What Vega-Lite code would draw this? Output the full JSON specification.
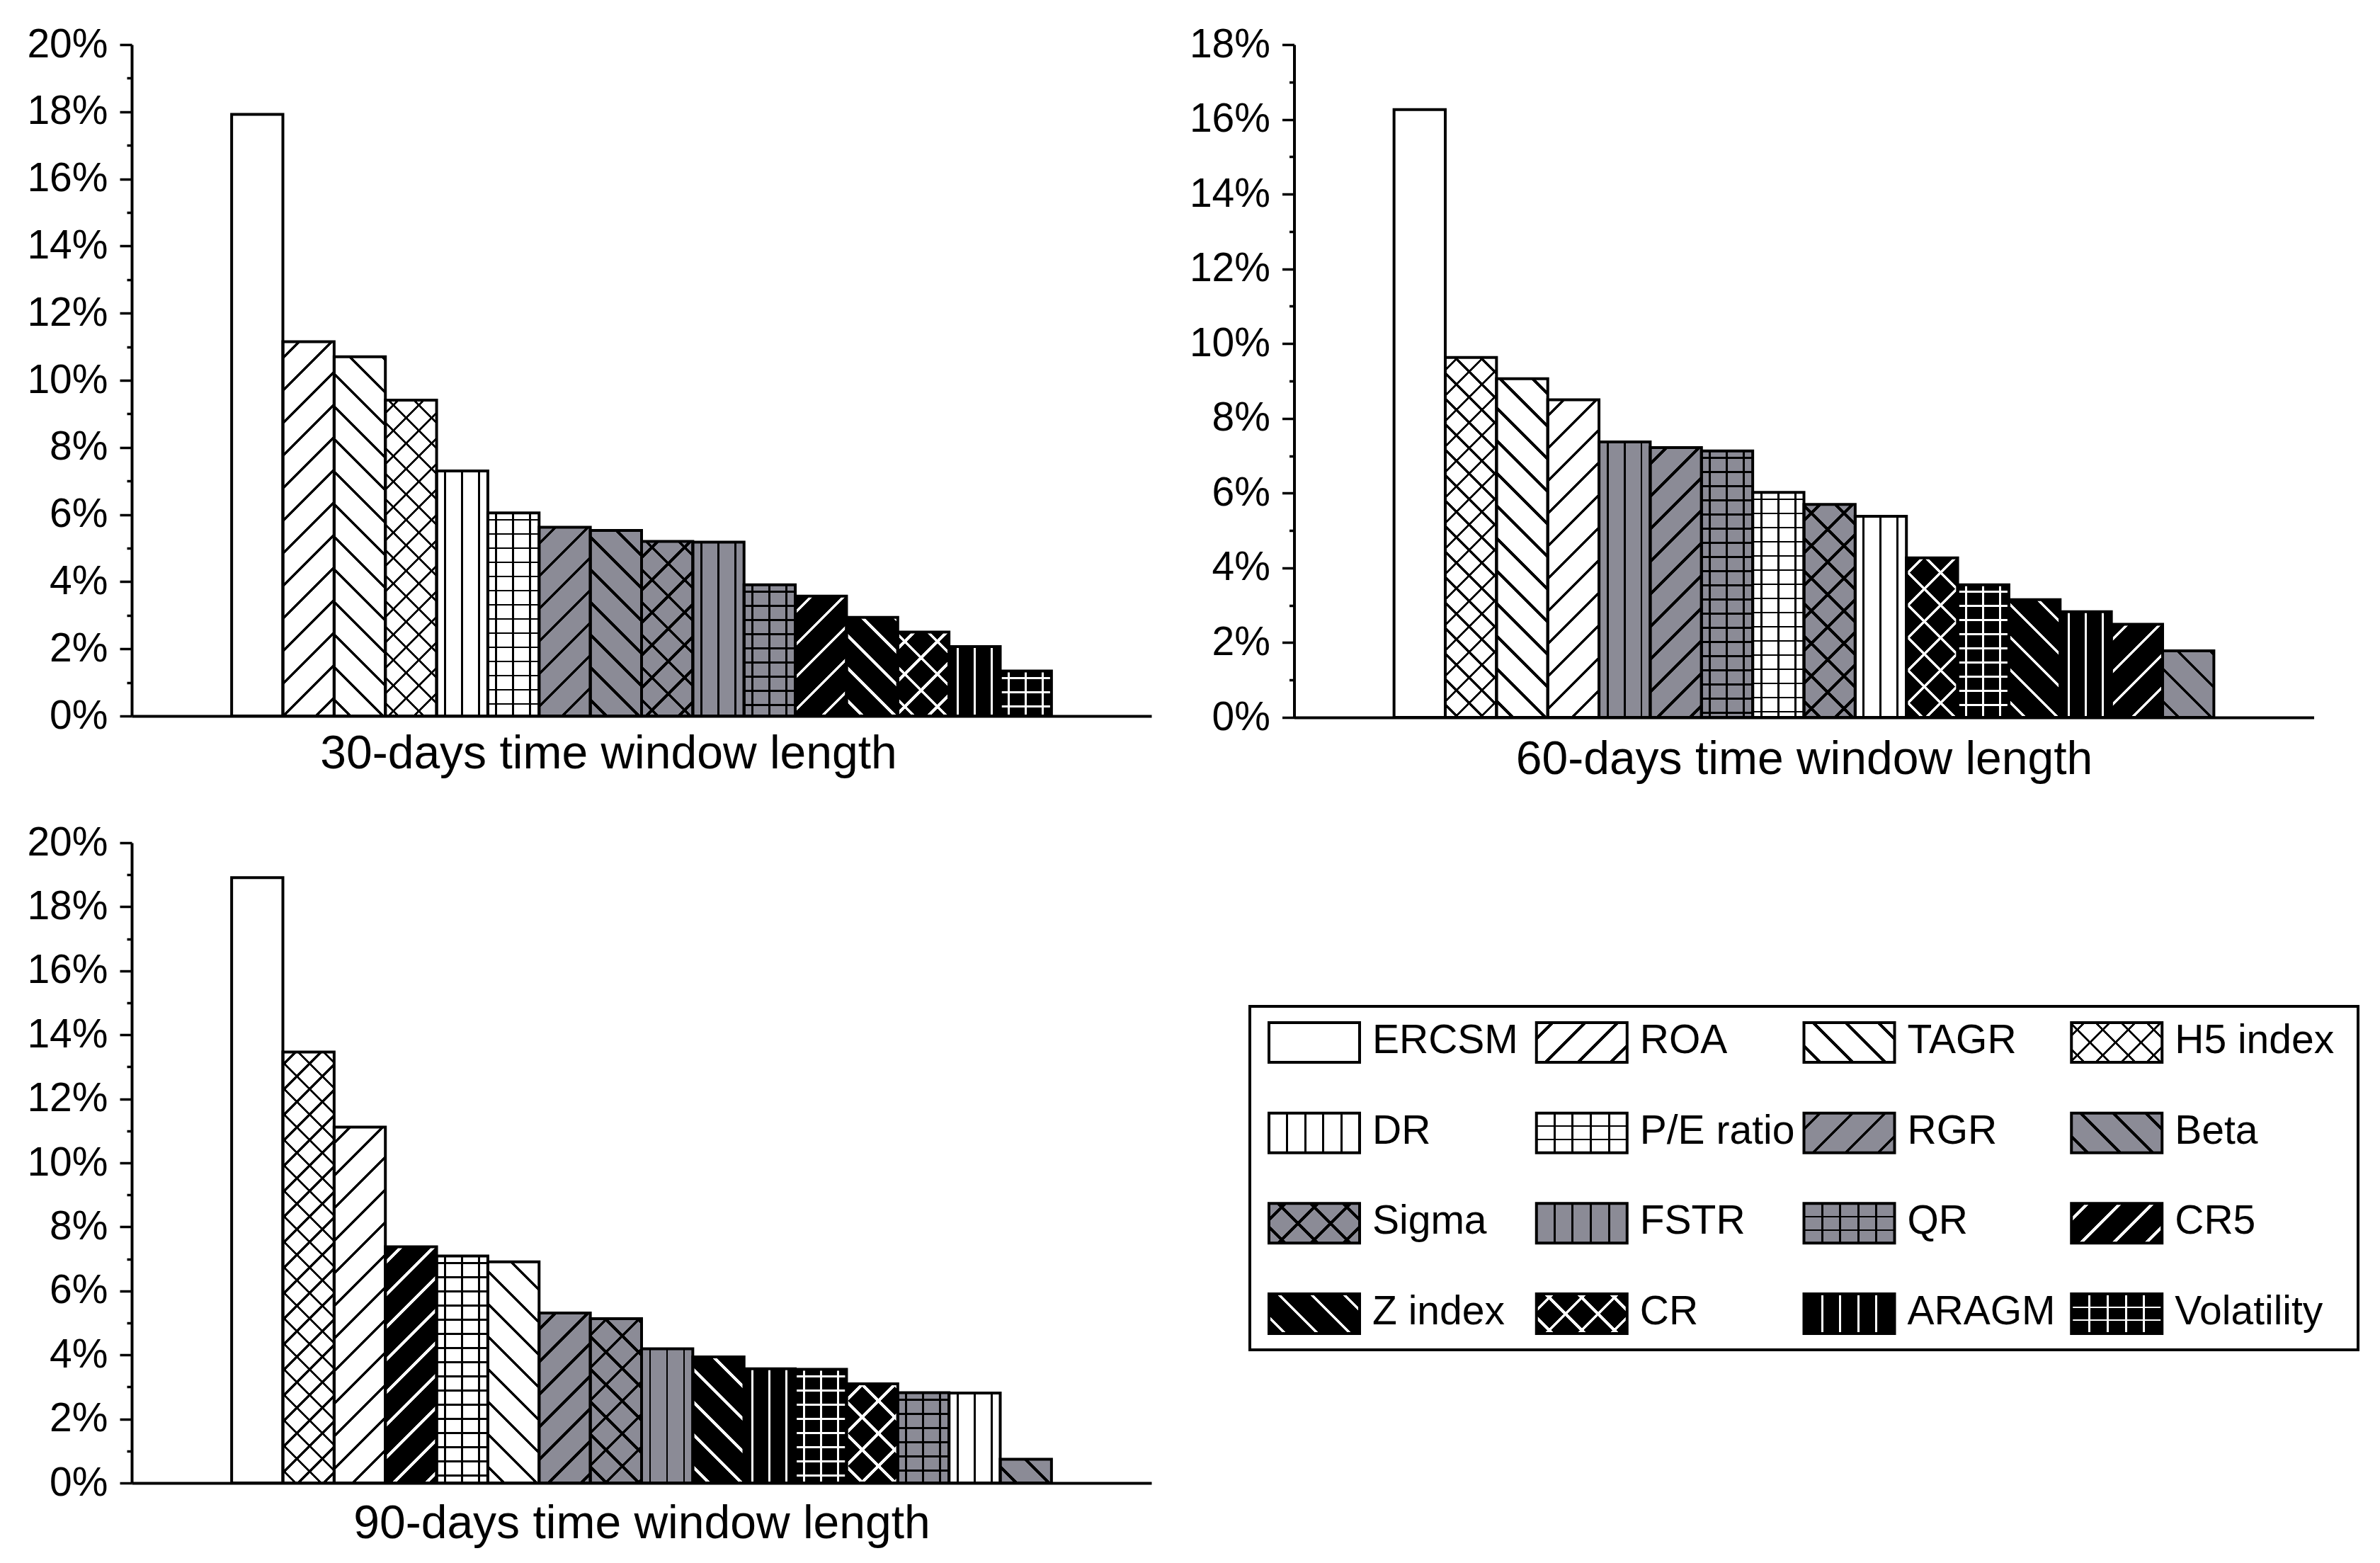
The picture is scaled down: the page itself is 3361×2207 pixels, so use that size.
{
  "$schema": "https://vega.github.io/schema/vega-lite/v6.json",
  "background": "white",
  "padding": {"left": 37, "top": 34, "right": 5, "bottom": 5},
  "config": {
    "view": {"stroke": null},
    "font": "Liberation Sans",
    "axis": {"grid": false, "domainColor": "black", "tickColor": "black", "labelColor": "black", "titleColor": "black", "labelFont": "Liberation Sans", "titleFont": "Liberation Sans"}
  },
  "params": [
    {"name": "stB", "value": [
      {"offset":0.022,"color":"rgba(0,0,0,0)"},{"offset":0.022,"color":"#000"},{"offset":0.028,"color":"#000"},{"offset":0.028,"color":"rgba(0,0,0,0)"},
      {"offset":0.072,"color":"rgba(0,0,0,0)"},{"offset":0.072,"color":"#000"},{"offset":0.078,"color":"#000"},{"offset":0.078,"color":"rgba(0,0,0,0)"},
      {"offset":0.122,"color":"rgba(0,0,0,0)"},{"offset":0.122,"color":"#000"},{"offset":0.128,"color":"#000"},{"offset":0.128,"color":"rgba(0,0,0,0)"},
      {"offset":0.172,"color":"rgba(0,0,0,0)"},{"offset":0.172,"color":"#000"},{"offset":0.178,"color":"#000"},{"offset":0.178,"color":"rgba(0,0,0,0)"},
      {"offset":0.222,"color":"rgba(0,0,0,0)"},{"offset":0.222,"color":"#000"},{"offset":0.228,"color":"#000"},{"offset":0.228,"color":"rgba(0,0,0,0)"},
      {"offset":0.272,"color":"rgba(0,0,0,0)"},{"offset":0.272,"color":"#000"},{"offset":0.278,"color":"#000"},{"offset":0.278,"color":"rgba(0,0,0,0)"},
      {"offset":0.322,"color":"rgba(0,0,0,0)"},{"offset":0.322,"color":"#000"},{"offset":0.328,"color":"#000"},{"offset":0.328,"color":"rgba(0,0,0,0)"},
      {"offset":0.372,"color":"rgba(0,0,0,0)"},{"offset":0.372,"color":"#000"},{"offset":0.378,"color":"#000"},{"offset":0.378,"color":"rgba(0,0,0,0)"},
      {"offset":0.422,"color":"rgba(0,0,0,0)"},{"offset":0.422,"color":"#000"},{"offset":0.428,"color":"#000"},{"offset":0.428,"color":"rgba(0,0,0,0)"},
      {"offset":0.472,"color":"rgba(0,0,0,0)"},{"offset":0.472,"color":"#000"},{"offset":0.478,"color":"#000"},{"offset":0.478,"color":"rgba(0,0,0,0)"},
      {"offset":0.522,"color":"rgba(0,0,0,0)"},{"offset":0.522,"color":"#000"},{"offset":0.528,"color":"#000"},{"offset":0.528,"color":"rgba(0,0,0,0)"},
      {"offset":0.572,"color":"rgba(0,0,0,0)"},{"offset":0.572,"color":"#000"},{"offset":0.578,"color":"#000"},{"offset":0.578,"color":"rgba(0,0,0,0)"},
      {"offset":0.622,"color":"rgba(0,0,0,0)"},{"offset":0.622,"color":"#000"},{"offset":0.628,"color":"#000"},{"offset":0.628,"color":"rgba(0,0,0,0)"},
      {"offset":0.672,"color":"rgba(0,0,0,0)"},{"offset":0.672,"color":"#000"},{"offset":0.678,"color":"#000"},{"offset":0.678,"color":"rgba(0,0,0,0)"},
      {"offset":0.722,"color":"rgba(0,0,0,0)"},{"offset":0.722,"color":"#000"},{"offset":0.728,"color":"#000"},{"offset":0.728,"color":"rgba(0,0,0,0)"},
      {"offset":0.772,"color":"rgba(0,0,0,0)"},{"offset":0.772,"color":"#000"},{"offset":0.778,"color":"#000"},{"offset":0.778,"color":"rgba(0,0,0,0)"},
      {"offset":0.822,"color":"rgba(0,0,0,0)"},{"offset":0.822,"color":"#000"},{"offset":0.828,"color":"#000"},{"offset":0.828,"color":"rgba(0,0,0,0)"},
      {"offset":0.872,"color":"rgba(0,0,0,0)"},{"offset":0.872,"color":"#000"},{"offset":0.878,"color":"#000"},{"offset":0.878,"color":"rgba(0,0,0,0)"},
      {"offset":0.922,"color":"rgba(0,0,0,0)"},{"offset":0.922,"color":"#000"},{"offset":0.928,"color":"#000"},{"offset":0.928,"color":"rgba(0,0,0,0)"},
      {"offset":0.972,"color":"rgba(0,0,0,0)"},{"offset":0.972,"color":"#000"},{"offset":0.978,"color":"#000"},{"offset":0.978,"color":"rgba(0,0,0,0)"}
    ]},
    {"name": "stW", "value": [
      {"offset":0.022,"color":"rgba(255,255,255,0)"},{"offset":0.022,"color":"#fff"},{"offset":0.028,"color":"#fff"},{"offset":0.028,"color":"rgba(255,255,255,0)"},
      {"offset":0.072,"color":"rgba(255,255,255,0)"},{"offset":0.072,"color":"#fff"},{"offset":0.078,"color":"#fff"},{"offset":0.078,"color":"rgba(255,255,255,0)"},
      {"offset":0.122,"color":"rgba(255,255,255,0)"},{"offset":0.122,"color":"#fff"},{"offset":0.128,"color":"#fff"},{"offset":0.128,"color":"rgba(255,255,255,0)"},
      {"offset":0.172,"color":"rgba(255,255,255,0)"},{"offset":0.172,"color":"#fff"},{"offset":0.178,"color":"#fff"},{"offset":0.178,"color":"rgba(255,255,255,0)"},
      {"offset":0.222,"color":"rgba(255,255,255,0)"},{"offset":0.222,"color":"#fff"},{"offset":0.228,"color":"#fff"},{"offset":0.228,"color":"rgba(255,255,255,0)"},
      {"offset":0.272,"color":"rgba(255,255,255,0)"},{"offset":0.272,"color":"#fff"},{"offset":0.278,"color":"#fff"},{"offset":0.278,"color":"rgba(255,255,255,0)"},
      {"offset":0.322,"color":"rgba(255,255,255,0)"},{"offset":0.322,"color":"#fff"},{"offset":0.328,"color":"#fff"},{"offset":0.328,"color":"rgba(255,255,255,0)"},
      {"offset":0.372,"color":"rgba(255,255,255,0)"},{"offset":0.372,"color":"#fff"},{"offset":0.378,"color":"#fff"},{"offset":0.378,"color":"rgba(255,255,255,0)"},
      {"offset":0.422,"color":"rgba(255,255,255,0)"},{"offset":0.422,"color":"#fff"},{"offset":0.428,"color":"#fff"},{"offset":0.428,"color":"rgba(255,255,255,0)"},
      {"offset":0.472,"color":"rgba(255,255,255,0)"},{"offset":0.472,"color":"#fff"},{"offset":0.478,"color":"#fff"},{"offset":0.478,"color":"rgba(255,255,255,0)"},
      {"offset":0.522,"color":"rgba(255,255,255,0)"},{"offset":0.522,"color":"#fff"},{"offset":0.528,"color":"#fff"},{"offset":0.528,"color":"rgba(255,255,255,0)"},
      {"offset":0.572,"color":"rgba(255,255,255,0)"},{"offset":0.572,"color":"#fff"},{"offset":0.578,"color":"#fff"},{"offset":0.578,"color":"rgba(255,255,255,0)"},
      {"offset":0.622,"color":"rgba(255,255,255,0)"},{"offset":0.622,"color":"#fff"},{"offset":0.628,"color":"#fff"},{"offset":0.628,"color":"rgba(255,255,255,0)"},
      {"offset":0.672,"color":"rgba(255,255,255,0)"},{"offset":0.672,"color":"#fff"},{"offset":0.678,"color":"#fff"},{"offset":0.678,"color":"rgba(255,255,255,0)"},
      {"offset":0.722,"color":"rgba(255,255,255,0)"},{"offset":0.722,"color":"#fff"},{"offset":0.728,"color":"#fff"},{"offset":0.728,"color":"rgba(255,255,255,0)"},
      {"offset":0.772,"color":"rgba(255,255,255,0)"},{"offset":0.772,"color":"#fff"},{"offset":0.778,"color":"#fff"},{"offset":0.778,"color":"rgba(255,255,255,0)"},
      {"offset":0.822,"color":"rgba(255,255,255,0)"},{"offset":0.822,"color":"#fff"},{"offset":0.828,"color":"#fff"},{"offset":0.828,"color":"rgba(255,255,255,0)"},
      {"offset":0.872,"color":"rgba(255,255,255,0)"},{"offset":0.872,"color":"#fff"},{"offset":0.878,"color":"#fff"},{"offset":0.878,"color":"rgba(255,255,255,0)"},
      {"offset":0.922,"color":"rgba(255,255,255,0)"},{"offset":0.922,"color":"#fff"},{"offset":0.928,"color":"#fff"},{"offset":0.928,"color":"rgba(255,255,255,0)"},
      {"offset":0.972,"color":"rgba(255,255,255,0)"},{"offset":0.972,"color":"#fff"},{"offset":0.978,"color":"#fff"},{"offset":0.978,"color":"rgba(255,255,255,0)"}
    ]}
  ],
  "datasets": {
    "d30": [
      {"k": "ERCSM", "v": 17.92}, {"k": "ROA", "v": 11.15}, {"k": "TAGR", "v": 10.7}, {"k": "H5 index", "v": 9.41},
      {"k": "DR", "v": 7.3}, {"k": "P/E ratio", "v": 6.05}, {"k": "RGR", "v": 5.62}, {"k": "Beta", "v": 5.53},
      {"k": "Sigma", "v": 5.2}, {"k": "FSTR", "v": 5.18}, {"k": "QR", "v": 3.91}, {"k": "CR5", "v": 3.57},
      {"k": "Z index", "v": 2.94}, {"k": "CR", "v": 2.5}, {"k": "ARAGM", "v": 2.07}, {"k": "Volatility", "v": 1.34}
    ],
    "d60": [
      {"k": "ERCSM", "v": 16.26}, {"k": "H5 index", "v": 9.63}, {"k": "TAGR", "v": 9.06}, {"k": "ROA", "v": 8.5},
      {"k": "FSTR", "v": 7.37}, {"k": "RGR", "v": 7.22}, {"k": "QR", "v": 7.13}, {"k": "P/E ratio", "v": 6.02},
      {"k": "Sigma", "v": 5.7}, {"k": "DR", "v": 5.38}, {"k": "CR", "v": 4.27}, {"k": "Volatility", "v": 3.55},
      {"k": "Z index", "v": 3.15}, {"k": "ARAGM", "v": 2.83}, {"k": "CR5", "v": 2.49}, {"k": "Beta", "v": 1.78}
    ],
    "d90": [
      {"k": "ERCSM", "v": 18.91}, {"k": "H5 index", "v": 13.46}, {"k": "ROA", "v": 11.12}, {"k": "CR5", "v": 7.38},
      {"k": "P/E ratio", "v": 7.09}, {"k": "TAGR", "v": 6.91}, {"k": "RGR", "v": 5.31}, {"k": "Sigma", "v": 5.13},
      {"k": "FSTR", "v": 4.19}, {"k": "Z index", "v": 3.94}, {"k": "ARAGM", "v": 3.57}, {"k": "Volatility", "v": 3.55},
      {"k": "CR", "v": 3.1}, {"k": "QR", "v": 2.82}, {"k": "DR", "v": 2.81}, {"k": "Beta", "v": 0.74}
    ],
    "keys": [
      {"k": "ERCSM"}, {"k": "ROA"}, {"k": "TAGR"}, {"k": "H5 index"},
      {"k": "DR"}, {"k": "P/E ratio"}, {"k": "RGR"}, {"k": "Beta"},
      {"k": "Sigma"}, {"k": "FSTR"}, {"k": "QR"}, {"k": "CR5"},
      {"k": "Z index"}, {"k": "CR"}, {"k": "ARAGM"}, {"k": "Volatility"}
    ]
  },
  "spacing": 53,
  "resolve": {"scale": {"xOffset": "independent"}},
  "hconcat": [
    {
      "bounds": "flush",
      "spacing": 179,
      "resolve": {"scale": {"xOffset": "independent"}},
      "vconcat": [
        {
          "data": {"name": "d30"},
          "width": 1440,
          "height": 948,
          "encoding": {
            "x": {"datum": "all", "type": "nominal", "scale": {"type": "band", "paddingInner": 0, "paddingOuter": 0.0528},
                  "axis": {"labels": false, "ticks": false, "domainWidth": 4, "title": "30-days time window length", "titleFontSize": 66, "titleFontWeight": "normal", "titlePadding": 21, "titleX": 673}},
            "xOffset": {"field": "k", "type": "nominal", "sort": {"field": "v", "op": "max", "order": "descending"}, "scale": {"type": "band", "paddingInner": 0, "paddingOuter": 1}},
            "y": {"field": "v", "type": "quantitative", "stack": null, "scale": {"domain": [0, 20], "nice": false},
                  "axis": {"values": [0,1,2,3,4,5,6,7,8,9,10,11,12,13,14,15,16,17,18,19,20], "labelExpr": "datum.value % 2 == 0 ? datum.value + '%' : ''",
                           "title": null, "domainWidth": 4, "tickWidth": 3.5, "tickSize": {"condition": {"test": "datum.value % 2 == 1", "value": 7}, "value": 17},
                           "labelFontSize": 57, "labelPadding": 17, "labelOverlap": false, "labelFlush": false}}
          },
          "layer": [
            {"mark": {"type": "bar"},
             "encoding": {"fill": {"field": "k", "type": "nominal", "legend": null,
               "scale": {"domain": ["ERCSM","ROA","TAGR","H5 index","DR","P/E ratio","RGR","Beta","Sigma","FSTR","QR","CR5","Z index","CR","ARAGM","Volatility"],
                         "range": ["#ffffff","#ffffff","#ffffff","#ffffff","#ffffff","#ffffff","#8b8b96","#8b8b96","#8b8b96","#8b8b96","#8b8b96","#000000","#000000","#000000","#000000","#000000"]}}}},
            {"mark": {"type": "bar", "fill": {"expr": "indexof(['ROA','H5 index','RGR','Sigma','CR5','CR'],datum.k)<0?'transparent':{gradient:'linear',x1:0,y1:0,x2:(datum.k=='H5 index'?720:920)/(72.36+pow(datum.v*47.4,2)/72.36),y2:(datum.k=='H5 index'?720:920)/(72.36+pow(datum.v*47.4,2)/72.36)*datum.v*47.4/72.36,stops:(indexof(['CR5','Z index','CR','ARAGM','Volatility'],datum.k)<0?stB:stW)}"}}},
            {"mark": {"type": "bar", "fill": {"expr": "indexof(['TAGR','H5 index','Beta','Sigma','Z index','CR'],datum.k)<0?'transparent':{gradient:'linear',x1:0,y1:1,x2:(datum.k=='H5 index'?720:920)/(72.36+pow(datum.v*47.4,2)/72.36),y2:1-(datum.k=='H5 index'?720:920)/(72.36+pow(datum.v*47.4,2)/72.36)*datum.v*47.4/72.36,stops:(indexof(['CR5','Z index','CR','ARAGM','Volatility'],datum.k)<0?stB:stW)}"}}},
            {"mark": {"type": "bar", "fill": {"expr": "indexof(['DR','P/E ratio','FSTR','QR','ARAGM','Volatility'],datum.k)<0?'transparent':{gradient:'linear',x1:0,y1:0,x2:6.633,y2:0,stops:(indexof(['CR5','Z index','CR','ARAGM','Volatility'],datum.k)<0?stB:stW)}"}}},
            {"mark": {"type": "bar", "fill": {"expr": "indexof(['P/E ratio','QR','Volatility'],datum.k)<0?'transparent':{gradient:'linear',x1:0,y1:0,x2:0.0001,y2:400/(datum.v*47.4),stops:(datum.k=='Volatility'?stW:stB)}"}}},
            {"mark": {"type": "bar", "fill": "transparent", "stroke": "black", "strokeWidth": 4}}
          ]
        },
        {
          "data": {"name": "d90"},
          "width": 1440,
          "height": 904,
          "encoding": {
            "x": {"datum": "all", "type": "nominal", "scale": {"type": "band", "paddingInner": 0, "paddingOuter": 0.0528},
                  "axis": {"labels": false, "ticks": false, "domainWidth": 4, "title": "90-days time window length", "titleFontSize": 66, "titleFontWeight": "normal", "titlePadding": 25}},
            "xOffset": {"field": "k", "type": "nominal", "sort": {"field": "v", "op": "max", "order": "descending"}, "scale": {"type": "band", "paddingInner": 0, "paddingOuter": 1}},
            "y": {"field": "v", "type": "quantitative", "stack": null, "scale": {"domain": [0, 20], "nice": false},
                  "axis": {"values": [0,1,2,3,4,5,6,7,8,9,10,11,12,13,14,15,16,17,18,19,20], "labelExpr": "datum.value % 2 == 0 ? datum.value + '%' : ''",
                           "title": null, "domainWidth": 4, "tickWidth": 3.5, "tickSize": {"condition": {"test": "datum.value % 2 == 1", "value": 7}, "value": 17},
                           "labelFontSize": 57, "labelPadding": 17, "labelOverlap": false, "labelFlush": false}}
          },
          "layer": [
            {"mark": {"type": "bar"},
             "encoding": {"fill": {"field": "k", "type": "nominal", "legend": null,
               "scale": {"domain": ["ERCSM","ROA","TAGR","H5 index","DR","P/E ratio","RGR","Beta","Sigma","FSTR","QR","CR5","Z index","CR","ARAGM","Volatility"],
                         "range": ["#ffffff","#ffffff","#ffffff","#ffffff","#ffffff","#ffffff","#8b8b96","#8b8b96","#8b8b96","#8b8b96","#8b8b96","#000000","#000000","#000000","#000000","#000000"]}}}},
            {"mark": {"type": "bar", "fill": {"expr": "indexof(['ROA','H5 index','RGR','Sigma','CR5','CR'],datum.k)<0?'transparent':{gradient:'linear',x1:0,y1:0,x2:(datum.k=='H5 index'?720:920)/(72.36+pow(datum.v*45.2,2)/72.36),y2:(datum.k=='H5 index'?720:920)/(72.36+pow(datum.v*45.2,2)/72.36)*datum.v*45.2/72.36,stops:(indexof(['CR5','Z index','CR','ARAGM','Volatility'],datum.k)<0?stB:stW)}"}}},
            {"mark": {"type": "bar", "fill": {"expr": "indexof(['TAGR','H5 index','Beta','Sigma','Z index','CR'],datum.k)<0?'transparent':{gradient:'linear',x1:0,y1:1,x2:(datum.k=='H5 index'?720:920)/(72.36+pow(datum.v*45.2,2)/72.36),y2:1-(datum.k=='H5 index'?720:920)/(72.36+pow(datum.v*45.2,2)/72.36)*datum.v*45.2/72.36,stops:(indexof(['CR5','Z index','CR','ARAGM','Volatility'],datum.k)<0?stB:stW)}"}}},
            {"mark": {"type": "bar", "fill": {"expr": "indexof(['DR','P/E ratio','FSTR','QR','ARAGM','Volatility'],datum.k)<0?'transparent':{gradient:'linear',x1:0,y1:0,x2:6.633,y2:0,stops:(indexof(['CR5','Z index','CR','ARAGM','Volatility'],datum.k)<0?stB:stW)}"}}},
            {"mark": {"type": "bar", "fill": {"expr": "indexof(['P/E ratio','QR','Volatility'],datum.k)<0?'transparent':{gradient:'linear',x1:0,y1:0,x2:0.0001,y2:400/(datum.v*45.2),stops:(datum.k=='Volatility'?stW:stB)}"}}},
            {"mark": {"type": "bar", "fill": "transparent", "stroke": "black", "strokeWidth": 4}}
          ]
        }
      ]
    },
    {
      "bounds": "flush",
      "spacing": 408,
      "center": true,
      "resolve": {"scale": {"xOffset": "independent"}},
      "vconcat": [
        {
          "data": {"name": "d60"},
          "width": 1440,
          "height": 950,
          "encoding": {
            "x": {"datum": "all", "type": "nominal", "scale": {"type": "band", "paddingInner": 0, "paddingOuter": 0.0528},
                  "axis": {"labels": false, "ticks": false, "domainWidth": 4, "title": "60-days time window length", "titleFontSize": 66, "titleFontWeight": "normal", "titlePadding": 27}},
            "xOffset": {"field": "k", "type": "nominal", "sort": {"field": "v", "op": "max", "order": "descending"}, "scale": {"type": "band", "paddingInner": 0, "paddingOuter": 1}},
            "y": {"field": "v", "type": "quantitative", "stack": null, "scale": {"domain": [0, 18], "nice": false},
                  "axis": {"values": [0,1,2,3,4,5,6,7,8,9,10,11,12,13,14,15,16,17,18], "labelExpr": "datum.value % 2 == 0 ? datum.value + '%' : ''",
                           "title": null, "domainWidth": 4, "tickWidth": 3.5, "tickSize": {"condition": {"test": "datum.value % 2 == 1", "value": 7}, "value": 17},
                           "labelFontSize": 57, "labelPadding": 17, "labelOverlap": false, "labelFlush": false}}
          },
          "layer": [
            {"mark": {"type": "bar"},
             "encoding": {"fill": {"field": "k", "type": "nominal", "legend": null,
               "scale": {"domain": ["ERCSM","ROA","TAGR","H5 index","DR","P/E ratio","RGR","Beta","Sigma","FSTR","QR","CR5","Z index","CR","ARAGM","Volatility"],
                         "range": ["#ffffff","#ffffff","#ffffff","#ffffff","#ffffff","#ffffff","#8b8b96","#8b8b96","#8b8b96","#8b8b96","#8b8b96","#000000","#000000","#000000","#000000","#000000"]}}}},
            {"mark": {"type": "bar", "fill": {"expr": "indexof(['ROA','H5 index','RGR','Sigma','CR5','CR'],datum.k)<0?'transparent':{gradient:'linear',x1:0,y1:0,x2:(datum.k=='H5 index'?720:920)/(72.36+pow(datum.v*52.78,2)/72.36),y2:(datum.k=='H5 index'?720:920)/(72.36+pow(datum.v*52.78,2)/72.36)*datum.v*52.78/72.36,stops:(indexof(['CR5','Z index','CR','ARAGM','Volatility'],datum.k)<0?stB:stW)}"}}},
            {"mark": {"type": "bar", "fill": {"expr": "indexof(['TAGR','H5 index','Beta','Sigma','Z index','CR'],datum.k)<0?'transparent':{gradient:'linear',x1:0,y1:1,x2:(datum.k=='H5 index'?720:920)/(72.36+pow(datum.v*52.78,2)/72.36),y2:1-(datum.k=='H5 index'?720:920)/(72.36+pow(datum.v*52.78,2)/72.36)*datum.v*52.78/72.36,stops:(indexof(['CR5','Z index','CR','ARAGM','Volatility'],datum.k)<0?stB:stW)}"}}},
            {"mark": {"type": "bar", "fill": {"expr": "indexof(['DR','P/E ratio','FSTR','QR','ARAGM','Volatility'],datum.k)<0?'transparent':{gradient:'linear',x1:0,y1:0,x2:6.633,y2:0,stops:(indexof(['CR5','Z index','CR','ARAGM','Volatility'],datum.k)<0?stB:stW)}"}}},
            {"mark": {"type": "bar", "fill": {"expr": "indexof(['P/E ratio','QR','Volatility'],datum.k)<0?'transparent':{gradient:'linear',x1:0,y1:0,x2:0.0001,y2:400/(datum.v*52.78),stops:(datum.k=='Volatility'?stW:stB)}"}}},
            {"mark": {"type": "bar", "fill": "transparent", "stroke": "black", "strokeWidth": 4}}
          ]
        },
        {
          "data": {"name": "keys"},
          "width": 1565,
          "height": 485,
          "view": {"stroke": "black", "strokeWidth": 4},
          "transform": [
            {"window": [{"op": "row_number", "as": "i"}]},
            {"calculate": "(datum.i - 1) % 4", "as": "col"},
            {"calculate": "floor((datum.i - 1) / 4)", "as": "row"}
          ],
          "encoding": {
            "x": {"field": "col", "type": "ordinal", "bandPosition": 0, "scale": {"type": "band", "paddingInner": 0, "paddingOuter": 0.0715}, "axis": null},
            "y": {"field": "row", "type": "ordinal", "scale": {"type": "point", "padding": 0.399}, "axis": null}
          },
          "layer": [
            {"mark": {"type": "point", "shape": "M0,-0.4375H2V0.4375H0Z", "size": 16384, "filled": true, "opacity": 1, "strokeWidth": 0},
             "encoding": {"fill": {"field": "k", "type": "nominal", "legend": null,
               "scale": {"domain": ["ERCSM","ROA","TAGR","H5 index","DR","P/E ratio","RGR","Beta","Sigma","FSTR","QR","CR5","Z index","CR","ARAGM","Volatility"],
                         "range": ["#ffffff","#ffffff","#ffffff","#ffffff","#ffffff","#ffffff","#8b8b96","#8b8b96","#8b8b96","#8b8b96","#8b8b96","#000000","#000000","#000000","#000000","#000000"]}}}},
            {"mark": {"type": "point", "shape": "M0,-0.4375H2V0.4375H0Z", "size": 16384, "filled": true, "opacity": 1, "strokeWidth": 0,
              "fill": {"expr": "indexof(['ROA','H5 index','RGR','Sigma','CR5','CR'],datum.k)<0?'transparent':{gradient:'linear',x1:0,y1:0,x2:(datum.k=='H5 index'?4.721:6.033),y2:(datum.k=='H5 index'?2.066:2.639),stops:(indexof(['CR5','Z index','CR','ARAGM','Volatility'],datum.k)<0?stB:stW)}"}}},
            {"mark": {"type": "point", "shape": "M0,-0.4375H2V0.4375H0Z", "size": 16384, "filled": true, "opacity": 1, "strokeWidth": 0,
              "fill": {"expr": "indexof(['TAGR','H5 index','Beta','Sigma','Z index','CR'],datum.k)<0?'transparent':{gradient:'linear',x1:0,y1:1,x2:(datum.k=='H5 index'?4.721:6.033),y2:(datum.k=='H5 index'?-1.066:-1.639),stops:(indexof(['CR5','Z index','CR','ARAGM','Volatility'],datum.k)<0?stB:stW)}"}}},
            {"mark": {"type": "point", "shape": "M0,-0.4375H2V0.4375H0Z", "size": 16384, "filled": true, "opacity": 1, "strokeWidth": 0,
              "fill": {"expr": "indexof(['DR','P/E ratio','FSTR','QR','ARAGM','Volatility'],datum.k)<0?'transparent':{gradient:'linear',x1:-0.1,y1:0,x2:3.9,y2:0,stops:(indexof(['CR5','Z index','CR','ARAGM','Volatility'],datum.k)<0?stB:stW)}"}}},
            {"mark": {"type": "point", "shape": "M0,-0.4375H2V0.4375H0Z", "size": 16384, "filled": true, "opacity": 1, "strokeWidth": 0,
              "fill": {"expr": "indexof(['P/E ratio','QR','Volatility'],datum.k)<0?'transparent':{gradient:'linear',x1:0,y1:-0.1667,x2:0.0001,y2:6.5,stops:(datum.k=='Volatility'?stW:stB)}"}}},
            {"mark": {"type": "point", "shape": "M0,-0.4375H2V0.4375H0Z", "size": 16384, "filled": false, "opacity": 1, "fill": "transparent", "stroke": "black", "strokeWidth": 4}},
            {"mark": {"type": "text", "align": "left", "baseline": "middle", "dx": 146, "dy": -2, "fontSize": 57, "font": "Liberation Sans", "color": "black"},
             "encoding": {"text": {"field": "k"}}}
          ]
        }
      ]
    }
  ]
}
